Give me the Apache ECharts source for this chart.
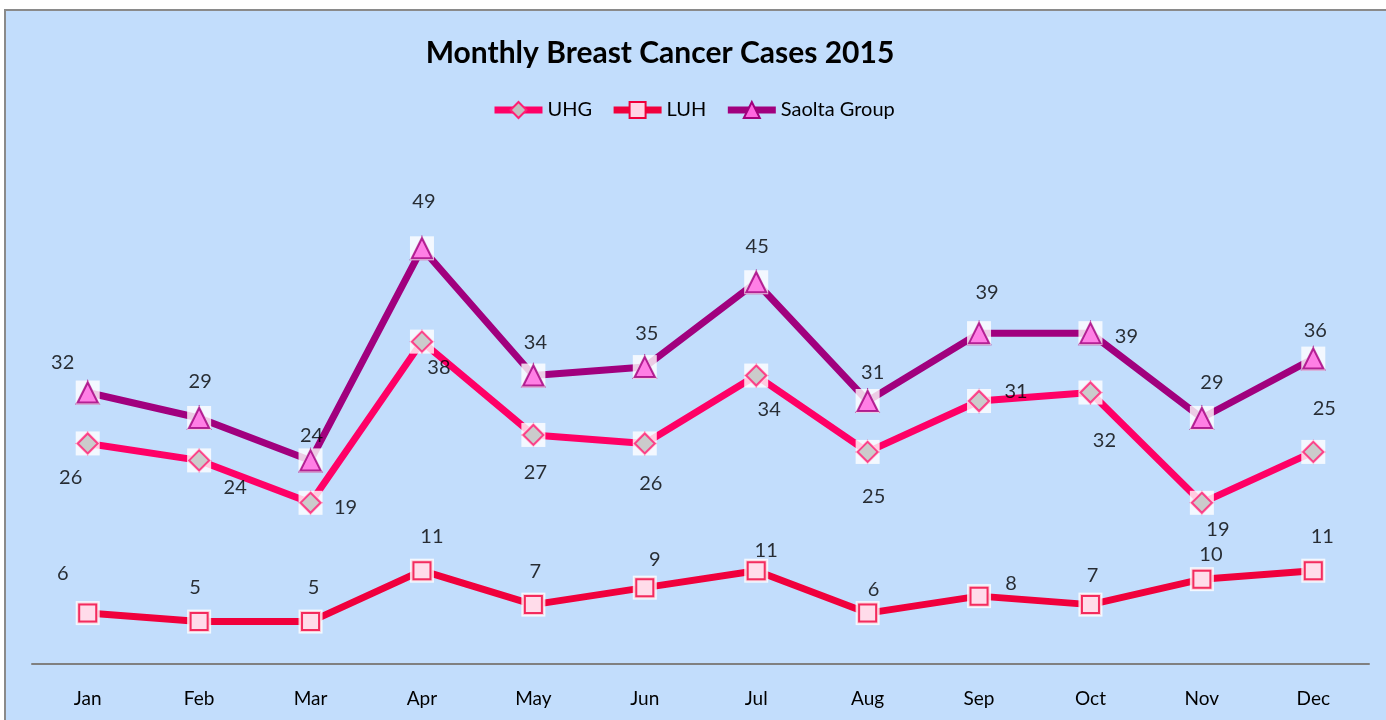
<!DOCTYPE html>
<html>
<head>
<meta charset="utf-8">
<style>
  html, body { margin: 0; padding: 0; background: #fff; }
  #main { width: 1386px; height: 720px; }
</style>
<script src="https://cdn.jsdelivr.net/npm/echarts@6/dist/echarts.min.js"></script>
</head>
<body>
<div id="main"></div>
<script>
const months = ['Jan', 'Feb', 'Mar', 'Apr', 'May', 'Jun', 'Jul', 'Aug', 'Sep', 'Oct', 'Nov', 'Dec']
const uhg = [26, 24, 19, 38, 27, 26, 34, 25, 31, 32, 19, 25]
const luh = [6, 5, 5, 11, 7, 9, 11, 6, 8, 7, 10, 11]
const saolta = [32, 29, 24, 49, 34, 35, 45, 31, 39, 39, 29, 36]

// label offsets (px) copied from where Excel put them
const uhgOffsets = [[-17, 34], [36, 27], [35, 5], [17, 26], [2, 38], [6, 40], [13, 34], [6, 45], [37, -9], [14, 48], [16, 27], [11, -43]]
const luhOffsets = [[-25, -40], [-4, -34], [3, -34], [10, -34], [2, -33], [10, -28], [10, -20], [6, -24], [32, -13], [2, -29], [9, -25], [9, -34]]
const saoltaOffsets = [[-25, -30], [1, -36], [1, -25], [2, -47], [2, -33], [2, -34], [1, -36], [5, -28], [8, -41], [36, 3], [10, -35], [2, -28]]

const font = 'Lato, "Open Sans", sans-serif'

const seriesDefs = [
  { name: 'UHG', data: uhg, offsets: uhgOffsets, line: '#FF0066', fill: '#C0C0C0', border: '#FF1F75', symbol: 'diamond', size: 22 },
  { name: 'LUH', data: luh, offsets: luhOffsets, line: '#F0003C', fill: '#FFD5E6', border: '#F0003C', symbol: 'rect', size: 19 },
  { name: 'Saolta Group', data: saolta, offsets: saoltaOffsets, line: '#A1007E', fill: '#FF66E0', border: '#A1007E', symbol: 'triangle', size: 22 }
]

const series = []
seriesDefs.forEach(d => {
  series.push({
    name: d.name,
    type: 'line',
    data: d.data,
    z: 2,
    symbol: d.symbol,
    symbolSize: d.size,
    lineStyle: { color: d.line, width: 7 },
    itemStyle: { color: d.fill, borderColor: d.border, borderWidth: 2 },
    emphasis: { disabled: true },
    animation: false
  })
})
// white squares behind the markers
seriesDefs.forEach(d => {
  series.push({
    type: 'scatter',
    data: d.data,
    z: 3,
    symbol: 'rect',
    symbolSize: 24,
    itemStyle: { color: '#FFFFFF' },
    silent: true,
    animation: false
  })
})
// markers + data labels on top
seriesDefs.forEach(d => {
  series.push({
    type: 'scatter',
    data: d.data.map((v, i) => ({
      value: v,
      label: { offset: d.offsets[i] }
    })),
    z: 4,
    symbol: d.symbol,
    symbolSize: d.size - 2,
    itemStyle: { color: d.fill, borderColor: d.border, borderWidth: 2 },
    label: {
      show: true,
      position: 'inside',
      color: '#000',
      fontFamily: font,
      fontSize: 20
    },
    silent: true,
    animation: false
  })
})

const chart = echarts.init(document.getElementById('main'))
chart.setOption({
  backgroundColor: '#FFFFFF',
  graphic: [{
    type: 'rect',
    z: -10,
    shape: { x: 5, y: 10, width: 1400, height: 800 },
    style: { fill: '#C2DDFC', stroke: '#8A8A8A', lineWidth: 2 },
    silent: true
  }],
  title: {
    text: 'Monthly Breast Cancer Cases 2015',
    left: 655,
    top: 33,
    textAlign: 'center',
    textStyle: { fontFamily: font, fontWeight: 'bold', fontSize: 30, color: '#000' }
  },
  legend: {
    data: ['UHG', 'LUH', 'Saolta Group'],
    top: 95,
    left: 486,
    itemWidth: 48,
    itemHeight: 20,
    itemGap: 18,
    lineStyle: { width: 7 },
    textStyle: { fontFamily: font, fontSize: 20, color: '#000' }
  },
  grid: { left: 32, right: 17, top: 155, bottom: 56 },
  xAxis: {
    type: 'category',
    data: months,
    boundaryGap: true,
    axisLine: { lineStyle: { color: '#808080', width: 2 } },
    axisTick: { show: false },
    axisLabel: { color: '#000', fontFamily: font, fontSize: 19, margin: 25 }
  },
  yAxis: {
    type: 'value',
    min: 0,
    max: 60,
    show: false,
    splitLine: { show: false }
  },
  series: series
})
</script>
</body>
</html>
